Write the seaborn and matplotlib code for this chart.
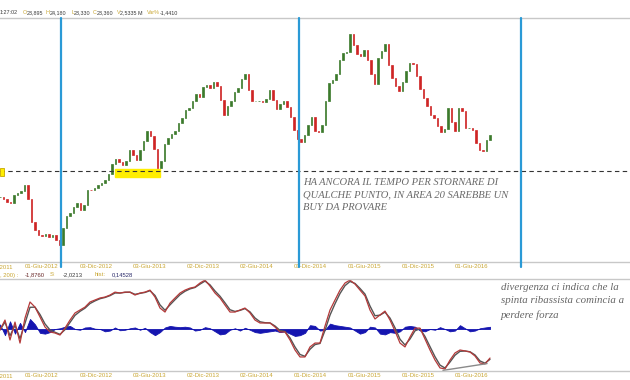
import pandas as pd
import matplotlib
matplotlib.use("Agg")
import matplotlib.pyplot as plt
from matplotlib.patches import Rectangle
import seaborn as sns

sns.set_theme(style="white")
plt.rcParams['font.family'] = ['Liberation Sans', 'DejaVu Sans']

# ---- data -----------------------------------------------------------------
# closing prices, evenly spaced from price_start to price_end
price_start, price_end = "2012-01-10", "2016-08-02"
closes = [
    17.58, 17.40, 17.15, 17.05, 17.80, 17.95, 18.20, 18.70, 17.40, 15.30,
    14.50, 14.05, 13.95, 14.20, 13.90, 14.05, 13.60, 13.10, 14.70, 15.80,
    16.09, 16.70, 17.02, 16.40, 16.90, 18.30, 18.25, 18.45, 18.70, 18.95,
    19.16, 19.80, 20.70, 21.20, 20.90, 20.55, 21.00, 22.00, 21.50, 21.05,
    21.95, 22.80, 23.80, 23.30, 22.05, 20.30, 21.00, 22.60, 23.16, 23.50,
    23.81, 24.55, 25.02, 25.70, 25.90, 26.60, 27.20, 26.90, 27.90, 28.10,
    27.80, 28.30, 28.00, 26.70, 25.30, 26.10, 26.55, 27.40, 27.81, 28.60,
    29.11, 27.60, 26.60, 26.60, 26.60, 26.45, 26.80, 27.60, 26.70, 25.80,
    26.30, 26.60, 26.00, 25.10, 23.90, 23.00, 22.75, 23.40, 24.30, 25.10,
    23.80, 23.70, 24.30, 26.60, 28.25, 28.50, 29.10, 30.40, 31.05, 31.10,
    32.83, 31.80, 30.97, 30.75, 31.30, 30.40, 29.10, 28.20, 30.60, 31.20,
    31.90, 29.90, 28.74, 28.00, 27.50, 28.30, 29.40, 30.15, 30.00, 28.90,
    27.70, 26.88, 26.10, 25.30, 25.02, 24.20, 23.65, 24.00, 25.95, 24.60,
    23.81, 25.90, 25.67, 24.09, 24.09, 23.90, 22.65, 21.95, 21.90, 22.90,
    23.36,
]

# MACD line and histogram, evenly spaced over the same period
macd = [
    -0.06, 0.58, -0.71, 0.45, -0.91, 0.71, 1.75, 1.42, 0.78, 0.13,
    -0.19, -0.26, -0.39, 0.06, 0.58, 1.04, 1.23, 1.42, 1.75, 1.88,
    2.01, 2.07, 2.20, 2.39, 2.33, 2.39, 2.39, 2.20, 2.33, 2.39,
    2.52, 2.07, 1.36, 1.10, 1.68, 2.01, 2.33, 2.52, 2.65, 2.72,
    2.98, 3.17, 2.78, 2.33, 2.01, 1.55, 1.10, 1.10, 1.23, 1.36,
    1.04, 0.58, 0.39, 0.39, 0.39, 0.13, -0.19, -0.19, -0.71, -1.36,
    -1.81, -1.81, -1.16, -0.91, -0.91, 0.19, 1.23, 1.88, 2.52, 2.98,
    3.17, 2.91, 2.52, 2.14, 1.23, 0.65, 0.91, 1.16, 0.58, -0.13,
    -0.91, -1.16, -0.52, 0.06, 0.06, -0.65, -1.36, -2.01, -2.52, -2.59,
    -2.01, -1.55, -1.36, -1.42, -1.49, -1.75, -2.20, -2.26, -1.88,
]
hist = [
    0.30, -0.40, 0.50, -0.30, 0.40, -0.20, 0.65, 0.30, -0.25, -0.30,
    -0.20, 0.00, 0.05, 0.15, 0.20, 0.00, -0.05, 0.10, 0.12, 0.02,
    0.00, -0.15, -0.10, 0.10, -0.08, -0.05, 0.05, 0.10, -0.05, 0.08,
    -0.20, -0.40, -0.20, 0.10, 0.20, 0.15, 0.12, 0.15, 0.10, -0.10,
    -0.05, 0.12, 0.05, -0.15, -0.35, -0.30, -0.05, 0.05, -0.10, 0.08,
    -0.05, -0.20, -0.25, -0.20, -0.15, -0.10, -0.20, -0.15, -0.30, -0.45,
    -0.40, -0.25, 0.25, 0.20, -0.10, -0.05, 0.35, 0.25, 0.20, 0.15,
    0.10, -0.10, -0.30, -0.20, 0.15, 0.10, -0.30, -0.35, -0.20, -0.25,
    -0.15, 0.15, 0.20, 0.15, -0.10, -0.15, 0.00, -0.05, 0.12, 0.00,
    -0.15, -0.10, 0.25, 0.05, -0.15, -0.10, 0.05, 0.10, 0.145,
]

tick_dates = ["2012-06-01", "2012-12-03", "2013-06-03", "2013-12-02",
              "2014-06-02", "2014-12-01", "2015-06-01", "2015-12-01", "2016-06-01"]
tick_labels = ["01-Giu-2012", "03-Dic-2012", "03-Giu-2013", "02-Dic-2013",
               "02-Giu-2014", "01-Dic-2014", "01-Giu-2015", "01-Dic-2015", "01-Giu-2016"]
first_tick_date, first_tick_label = "2011-12-01", "01-Dic-2011"

marker_dates = ["2012-08-04", "2014-10-22", "2016-11-15"]
support = 20.0
zone_start, zone_end, zone_low, zone_high = "2013-02-04", "2013-07-07", 19.44, 20.19
diverg_dates = ["2016-02-24", "2016-07-23"]
diverg_vals = [-2.68, -2.24]

x_start, x_end = "2012-01-10", "2017-11-21"

gold = "#c9a632"
dark = "#3a3a3a"

# ---- frames -----------------------------------------------------------------
df = pd.DataFrame({
    "date": pd.date_range(price_start, price_end, periods=len(closes)),
    "close": closes,
})
df["open"] = df["close"].shift(1).fillna(df["close"])
df["up"] = df["close"] >= df["open"]

ind = pd.DataFrame({
    "date": pd.date_range(price_start, price_end, periods=len(macd)),
    "macd": macd,
    "hist": hist,
})
ind["signal"] = ind["macd"].ewm(alpha=0.75).mean()

# ---- figure -----------------------------------------------------------------
fig = plt.figure(figsize=(6.3, 3.8), dpi=100)
ax1 = fig.add_axes([0, 118 / 380, 1, 244 / 380])
ax2 = fig.add_axes([0, 9 / 380, 1, 92 / 380])

# candles
step = df["date"].diff().median()
cols = ["#3c7a2c" if u else "#cf2525" for u in df["up"]]
ax1.bar(df["date"], df["close"] - df["open"], bottom=df["open"], width=step * 0.45,
        color=cols, edgecolor=cols, linewidth=0.5)

ax1.axhline(support, color="#333333", lw=0.8, ls=(0, (4, 3)))
ax1.add_patch(Rectangle((pd.Timestamp(zone_start), zone_low),
                        pd.Timestamp(zone_end) - pd.Timestamp(zone_start),
                        zone_high - zone_low, color="#ffee00", zorder=0))
ax1.add_patch(Rectangle((pd.Timestamp(x_start), 19.55), pd.Timedelta(days=14), 0.8,
                        facecolor="#ffee00", edgecolor="#c8a800", lw=0.6, zorder=3))
for d in marker_dates:
    ax1.axvline(pd.Timestamp(d), ymin=-0.02, ymax=1.0, color="#2a9ad6", lw=1.6,
                clip_on=False, zorder=4)

ax1.set_ylim(11.54, 34.32)

# MACD panel
sns.lineplot(data=ind, x="date", y="signal", ax=ax2, color="#555555", lw=1.0)
sns.lineplot(data=ind, x="date", y="macd", ax=ax2, color="#b43a3a", lw=0.9)
ax2.fill_between(ind["date"], ind["hist"], 0, color="#1515b0", lw=0.6)
ax2.plot(pd.to_datetime(diverg_dates), diverg_vals, color="#8a8a8a", lw=1.0)
ax2.set_ylim(-2.72, 3.24)

for ax in (ax1, ax2):
    ax.set_xticks(pd.to_datetime(tick_dates))
    ax.set_xticklabels(tick_labels, fontsize=4.3, color=gold)
    ax.set_xlim(pd.Timestamp(x_start), pd.Timestamp(x_end))
    ax.tick_params(axis="x", length=0, pad=1.5)
    ax.set_yticks([])
    ax.set_xlabel("")
    ax.set_ylabel("")
    for s in ("left", "right"):
        ax.spines[s].set_visible(False)
    for s in ("top", "bottom"):
        ax.spines[s].set_color("#c8c8c8")
        ax.spines[s].set_linewidth(1.0)
    ax.set_facecolor("none")
    # the december 2011 label sits half outside the left edge
    ax.annotate(first_tick_label, (pd.Timestamp(first_tick_date), 0),
                xycoords=("data", "axes fraction"), xytext=(6, -4.2),
                textcoords="offset points", ha="center", va="center",
                fontsize=4.3, color=gold, annotation_clip=False)

# header texts
def px(x, y):
    return x / 630, 1 - y / 380

header = [(0, "1:27:02", dark), (23, "O", gold), (27, "23,895", dark),
          (46, "H", gold), (49.5, "24,180", dark), (71, "L", gold),
          (74, "23,330", dark), (93, "C", gold), (96.5, "23,360", dark),
          (116.5, "V", gold), (120, "2,5335 M", dark), (147, "Var%", gold),
          (160, "-1,4410", dark)]
for x, t, c in header:
    fig.text(*px(x, 13), t, fontsize=3.9, color=c, va="center", ha="left")

info = [(0, ", 200) :", gold), (25, "-1,8760", "#6a2a2a"), (50, "S:", gold),
        (63, "-2,0213", dark), (95, "hist:", gold), (112, "0,14528", "#2a2a6a")]
for x, t, c in info:
    fig.text(*px(x, 275), t, fontsize=4.2, color=c, va="center", ha="left")

fig.text(*px(303, 178), "HA ANCORA IL TEMPO PER STORNARE DI\nQUALCHE PUNTO, IN AREA 20 SAREBBE UN\nBUY DA PROVARE",
         family=["Liberation Serif"], style="italic", fontsize=7.6, color="#6a6a6a",
         va="top", ha="left", linespacing=1.5)
fig.text(*px(501, 283), "divergenza ci indica che la\nspinta ribassista comincia a\nperdere forza",
         family=["Liberation Serif"], style="italic", fontsize=7.8, color="#666666",
         va="top", ha="left", linespacing=1.6)

fig.savefig("out.png", dpi=100)
